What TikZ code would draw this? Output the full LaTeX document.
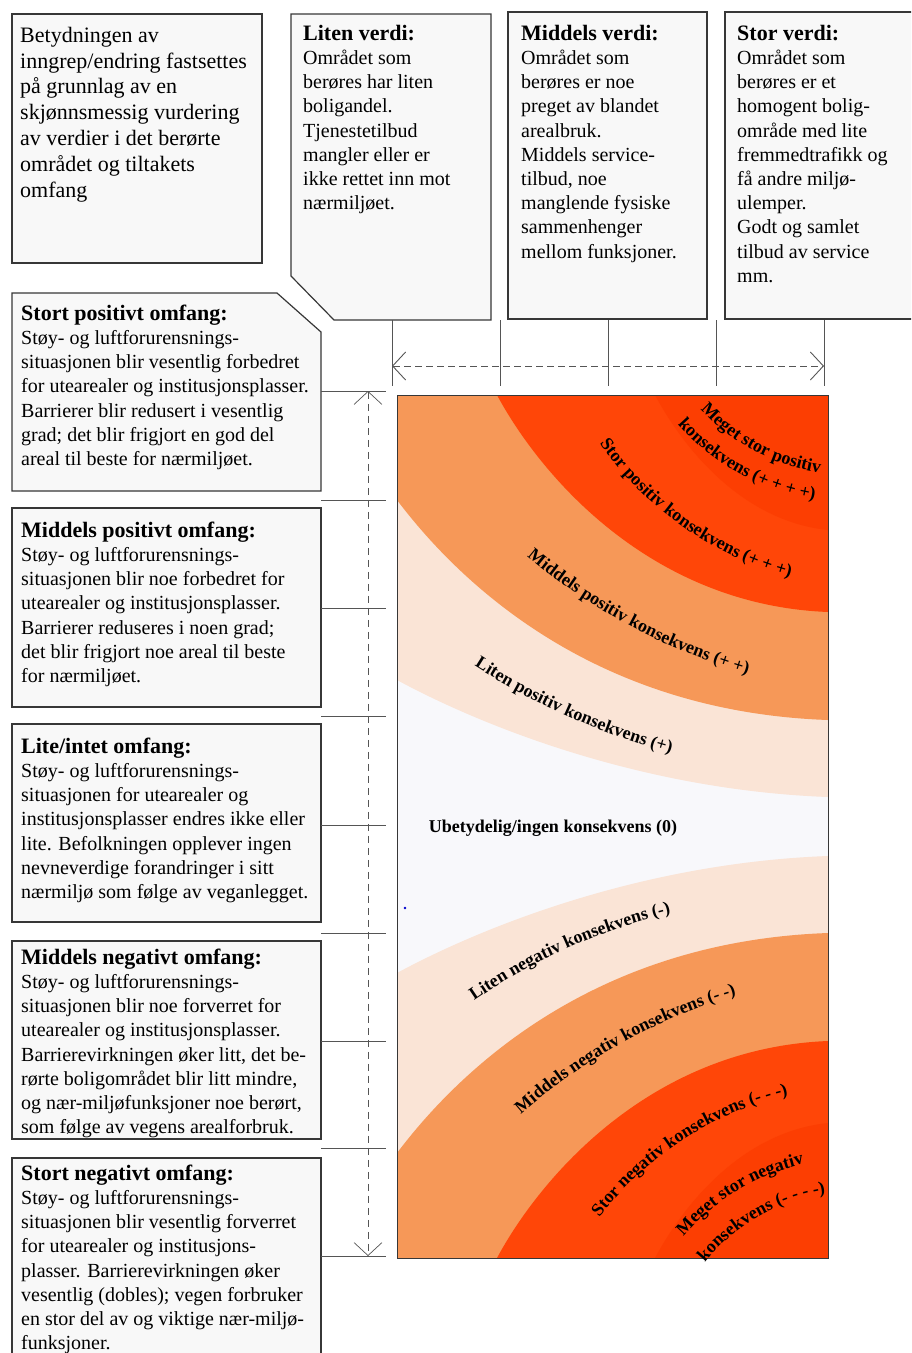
\documentclass[tikz,border=0pt]{standalone}
\usepackage{fontspec}
\setmainfont{Liberation Serif}
\usetikzlibrary{arrows.meta,decorations.text,calc}
\definecolor{boxbg}{RGB}{248,248,248}
\definecolor{boxline}{RGB}{55,55,55}
\definecolor{tickgray}{RGB}{85,85,85}
\definecolor{zred}{RGB}{255,70,8}
\definecolor{zredin}{RGB}{252,62,2}
\definecolor{zorange}{RGB}{246,152,88}
\definecolor{zlight}{RGB}{250,228,214}
\definecolor{zwhite}{RGB}{248,248,251}
\newcommand{\clfont}{\bfseries\fontsize{18}{20}\selectfont}
\newcommand{\boxtitle}[1]{\textbf{\fontsize{22}{24.2}\selectfont #1}}
\newcommand{\firststrut}{\rule{0pt}{17pt}}
\tikzset{
  panel/.style={draw=boxline, line width=1.2pt, fill=boxbg},
  bodytext/.style={anchor=north west, inner sep=0pt, align=left, font=\fontsize{20}{24.2}\selectfont},
  tickline/.style={draw=tickgray, line width=0.9pt},
  dimline/.style={draw=tickgray, line width=0.9pt, dash pattern=on 7pt off 4pt, >={Straight Barb[length=13pt,width=28pt]}, <->},
  curvelabel/.style={decorate, decoration={text along path, text align=center, text={|\clfont|#1}}}
}
\begin{document}
\begin{tikzpicture}[x=1pt,y=1pt]
\useasboundingbox (0,0) rectangle (911,-1353);
\clip (0,0) rectangle (911,-1353);

% ---------- top boxes ----------
\draw[panel] (12,-14) rectangle (262,-263);
\node[bodytext, font=\fontsize{22}{25.8}\selectfont] (tA) at (20,-25) {\firststrut Betydningen av\\inngrep/endring fastsettes\\på grunnlag av en\\skjønnsmessig vurdering\\av verdier i det berørte\\området og tiltakets\\omfang};

\draw[panel] (291,-14) -- (491,-14) -- (491,-320) -- (334,-320) -- (291,-276) -- cycle;
\node[bodytext] (tLV) at (303,-23) {\firststrut\boxtitle{Liten verdi:}\\Området som\\berøres har liten\\boligandel.\\Tjenestetilbud\\mangler eller er\\ikke rettet inn mot\\nærmiljøet.};

\draw[panel] (508,-12) rectangle (707,-319);
\node[bodytext] (tMV) at (521,-23) {\firststrut\boxtitle{Middels verdi:}\\Området som\\berøres er noe\\preget av blandet\\arealbruk.\\Middels service-\\tilbud, noe\\manglende fysiske\\sammenhenger\\mellom funksjoner.};

\draw[panel] (725,-12) rectangle (925,-319);
\node[bodytext] (tSV) at (737,-23) {\firststrut\boxtitle{Stor verdi:}\\Området som\\berøres er et\\homogent bolig-\\område med lite\\fremmedtrafikk og\\få andre miljø-\\ulemper.\\Godt og samlet\\tilbud av service\\mm.};

% ---------- left boxes ----------
\draw[panel] (12,-293) -- (277,-293) -- (321,-332) -- (321,-491) -- (12,-491) -- cycle;
\node[bodytext] (tSP) at (21,-303) {\firststrut\boxtitle{Stort positivt omfang:}\\Støy- og luftforurensnings-\\situasjonen blir vesentlig forbedret\\for utearealer og institusjonsplasser.\\Barrierer blir redusert i vesentlig\\grad; det blir frigjort en god del\\areal til beste for nærmiljøet.};

\draw[panel] (12,-508) rectangle (321,-707);
\node[bodytext] (tMP) at (21,-520) {\firststrut\boxtitle{Middels positivt omfang:}\\Støy- og luftforurensnings-\\situasjonen blir noe forbedret for\\utearealer og institusjonsplasser.\\Barrierer reduseres i noen grad;\\det blir frigjort noe areal til beste\\for nærmiljøet.};

\draw[panel] (12,-724) rectangle (321,-922);
\node[bodytext] (tLI) at (21,-736) {\firststrut\boxtitle{Lite/intet omfang:}\\Støy- og luftforurensnings-\\situasjonen for utearealer og\\institusjonsplasser endres ikke eller\\lite. Befolkningen opplever ingen\\nevneverdige forandringer i sitt\\nærmiljø som følge av veganlegget.};

\draw[panel] (12,-941) rectangle (321,-1139);
\node[bodytext] (tMN) at (21,-947) {\firststrut\boxtitle{Middels negativt omfang:}\\Støy- og luftforurensnings-\\situasjonen blir noe forverret for\\utearealer og institusjonsplasser.\\Barrierevirkningen øker litt, det be-\\rørte boligområdet blir litt mindre,\\og nær-miljøfunksjoner noe berørt,\\som følge av vegens arealforbruk.};

\draw[panel] (12,-1158) rectangle (321,-1370);
\node[bodytext] (tSN) at (21,-1163) {\firststrut\boxtitle{Stort negativt omfang:}\\Støy- og luftforurensnings-\\situasjonen blir vesentlig forverret\\for utearealer og institusjons-\\plasser. Barrierevirkningen øker\\vesentlig (dobles); vegen forbruker\\en stor del av og viktige nær-miljø-\\funksjoner.};

% ---------- ticks and dimension lines ----------
\foreach \i/\y in {1/391,2/500,3/608,4/716,5/825,6/933,7/1041,8/1148,9/1256}{
  \coordinate (tl\i) at (321,-\y);
  \coordinate (tr\i) at (386,-\y);
  \draw[tickline] (tl\i) -- (tr\i);
}
\coordinate (vtop) at (368,-391);
\coordinate (vbot) at (368,-1256);
\draw[dimline, dash pattern=on 7pt off 5pt, line width=0.7pt] (vtop) -- (vbot);

\foreach \i/\x in {1/392,2/500,3/608,4/716,5/824}{
  \coordinate (ut\i) at (\x,-320);
  \coordinate (ub\i) at (\x,-386);
  \draw[tickline] (ut\i) -- (ub\i);
}
\coordinate (hleft) at (392,-366);
\coordinate (hright) at (824,-366);
\draw[dimline] (hleft) -- (hright);

% ---------- chart ----------
\fill[zwhite] (397,-395) rectangle (828,-1258);
% top half
\fill[zlight] (397,-395) -- (397,-680) .. controls (480,-725) and (640,-790) .. (828,-797) -- (828,-395) -- cycle;
\fill[zorange] (397,-395) -- (397,-500) .. controls (465,-590) and (600,-712) .. (828,-720) -- (828,-395) -- cycle;
\fill[zred] (497,-395) .. controls (540,-475) and (650,-605) .. (828,-612) -- (828,-395) -- cycle;
\fill[zredin] (655,-395) .. controls (690,-460) and (750,-522) .. (828,-530) -- (828,-395) -- cycle;
% bottom half
\fill[zlight] (397,-1258) -- (397,-973) .. controls (480,-928) and (640,-863) .. (828,-856) -- (828,-1258) -- cycle;
\fill[zorange] (397,-1258) -- (397,-1153) .. controls (465,-1063) and (600,-941) .. (828,-933) -- (828,-1258) -- cycle;
\fill[zred] (497,-1258) .. controls (540,-1178) and (650,-1048) .. (828,-1041) -- (828,-1258) -- cycle;
\fill[zredin] (655,-1258) .. controls (690,-1193) and (750,-1131) .. (828,-1123) -- (828,-1258) -- cycle;
\draw[boxline, line width=0.9pt] (397,-395) rectangle (828,-1258);

% curved labels, top
\path[curvelabel={Meget stor positiv}] ($(850,-272)+(214:203)$) arc[start angle=214, end angle=270, radius=203];
\path[curvelabel={konsekvens (+ + + +)}] ($(850,-272)+(213.9:230)$) arc[start angle=213.9, end angle=268.7, radius=230];
\path[curvelabel={Stor positiv konsekvens (+ + +)}] ($(880.5,-245.3)+(210.3:344)$) arc[start angle=210.3, end angle=259.7, radius=344];
\path[curvelabel={Middels positiv konsekvens (+ +)}] ($(913.6,-95.1)+(227.2:602)$) arc[start angle=227.2, end angle=256.8, radius=602];
\path[curvelabel={Liten positiv konsekvens (+)}] ($(857.6,-69.4)+(234.8:709)$) arc[start angle=234.8, end angle=257.2, radius=709];

\node[font=\clfont, anchor=base, inner sep=0pt] (zero) at (553,-832) {Ubetydelig/ingen konsekvens (0)};

% curved labels, bottom
\path[curvelabel={Liten negativ konsekvens (-)}] ($(808.3,-1487)+(127.4:590)$) arc[start angle=127.4, end angle=100.6, radius=590];
\path[curvelabel={Middels negativ konsekvens (- -)}] ($(904.4,-1552)+(134.2:582)$) arc[start angle=134.2, end angle=103.8, radius=582];
\path[curvelabel={Stor negativ konsekvens (- - -)}] ($(866.7,-1422.4)+(147.7:337)$) arc[start angle=147.7, end angle=98.3, radius=337];
\path[curvelabel={Meget stor negativ}] ($(855,-1385)+(147:227)$) arc[start angle=147, end angle=95, radius=227];
\path[curvelabel={konsekvens (- - - -)}] ($(855,-1385)+(148.9:194)$) arc[start angle=148.9, end angle=90.5, radius=194];

\fill[blue!80!black] (405,-908) circle (1.4);
\end{tikzpicture}
\end{document}
